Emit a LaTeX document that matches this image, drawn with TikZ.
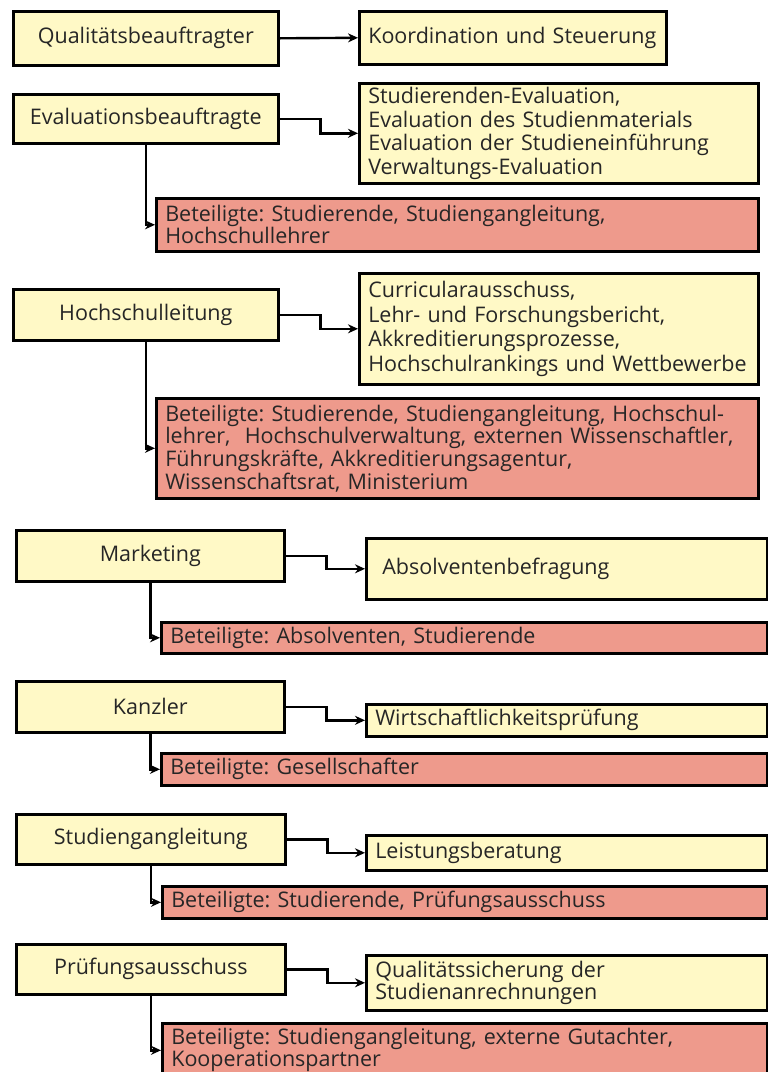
\documentclass[tikz,border=0pt]{standalone}
\usepackage{fontspec}
\setmainfont{Open Sans}
\usepackage{xcolor}
\usepackage{tikz}
\usetikzlibrary{arrows.meta,positioning}
\definecolor{roleyellow}{HTML}{FFF9C6}
\definecolor{partred}{HTML}{EE9A8C}
\frenchspacing

\begin{document}
\begin{tikzpicture}[
  x=1pt, y=-1pt,
  rolebox/.style={draw, fill=roleyellow, line width=2.6pt, anchor=north west, inner sep=0pt, align=center, text=black!85, font=\fontsize{21.5}{23.5}\selectfont},
  taskbox/.style={draw, fill=roleyellow, line width=2.6pt, anchor=north west, inner xsep=9pt, inner ysep=0pt, align=left, text=black!85, font=\fontsize{21.5}{23.5}\selectfont},
  partbox/.style={draw, fill=partred, line width=2.6pt, anchor=north west, inner xsep=9pt, inner ysep=0pt, align=left, text=black!85, font=\fontsize{21.5}{22}\selectfont},
  arrow/.style={-{Stealth[length=10pt, width=9pt]}, line width=2.4pt}
]
  \useasboundingbox (0,0) rectangle (768,1072);
  \clip (0,0) rectangle (768,1072);

  % Qualitaetsbeauftragter
  \node[rolebox, minimum width=265pt, minimum height=54pt] (qb) at (12,10) {Qualitätsbeauftragter};
  \node[taskbox, minimum width=307pt, minimum height=53pt, text width=289pt] (qbtask) at (358,10) {Koordination und Steuerung};
  \draw[arrow] (qb.east) -- (qbtask.west);

  % Evaluationsbeauftragte
  \node[rolebox, minimum width=265pt, minimum height=49pt] (eb) at (12,93) {Evaluationsbeauftragte};
  \node[taskbox, minimum width=399pt, minimum height=100pt, text width=381pt] (ebtask) at (358,82) {Studierenden-Evaluation,\\Evaluation des Studienmaterials\\Evaluation der Studieneinführung\\Verwaltungs-Evaluation};
  \node[partbox, minimum width=602pt, minimum height=53pt, text width=584pt] (ebpart) at (155,197) {Beteiligte: Studierende, Studiengangleitung,\\Hochschullehrer};
  \draw[arrow] (eb.east) -- ++(41,0) |- (ebtask.west);
  \draw[arrow] (eb.south) |- (ebpart.west);

  % Hochschulleitung
  \node[rolebox, minimum width=265pt, minimum height=51pt] (hl) at (12,288) {Hochschulleitung};
  \node[taskbox, minimum width=399pt, minimum height=111pt, text width=381pt, font=\fontsize{21.5}{24.5}\selectfont] (hltask) at (358,272) {Curricularausschuss,\\Lehr- und Forschungsbericht,\\Akkreditierungsprozesse,\\Hochschulrankings und Wettbewerbe};
  \node[partbox, minimum width=602pt, minimum height=100pt, text width=584pt, font=\fontsize{21.5}{21.5}\selectfont] (hlpart) at (155,397) {Beteiligte: Studierende, Studiengangleitung, Hochschul-\\lehrer,~ Hochschulverwaltung, externen Wissenschaftler,\\Führungskräfte, Akkreditierungsagentur,\\Wissenschaftsrat, Ministerium};
  \draw[arrow] (hl.east) -- ++(41,0) |- (hltask.west);
  \draw[arrow] (hl.south) |- (hlpart.west);

  % Marketing
  \node[rolebox, minimum width=268pt, minimum height=51pt] (mk) at (15,529) {Marketing};
  \node[taskbox, minimum width=401pt, minimum height=61pt, text width=369pt, inner xsep=16pt] (mktask) at (365,537) {Absolventenbefragung};
  \node[partbox, minimum width=606pt, minimum height=31pt, text width=588pt] (mkpart) at (160,621) {Beteiligte: Absolventen, Studierende};
  \draw[arrow] (mk.east) -- ++(41,0) |- (mktask.west);
  \draw[arrow] (mk.south) |- (mkpart.west);

  % Kanzler
  \node[rolebox, minimum width=268pt, minimum height=51pt] (kz) at (15,680) {Kanzler};
  \node[taskbox, minimum width=401pt, minimum height=32pt, text width=383pt] (kztask) at (365,703) {Wirtschaftlichkeitsprüfung};
  \node[partbox, minimum width=606pt, minimum height=32pt, text width=588pt] (kzpart) at (160,752) {Beteiligte: Gesellschafter};
  \draw[arrow] (kz.east) -- ++(41,0) |- (kztask.west);
  \draw[arrow] (kz.south) |- (kzpart.west);

  % Studiengangleitung
  \node[rolebox, minimum width=269pt, minimum height=50pt] (sl) at (15,813) {Studiengangleitung};
  \node[taskbox, minimum width=401pt, minimum height=35pt, text width=383pt] (sltask) at (365,834) {Leistungsberatung};
  \node[partbox, minimum width=605pt, minimum height=32pt, text width=587pt] (slpart) at (161,885) {Beteiligte: Studierende, Prüfungsausschuss};
  \draw[arrow] (sl.east) -- ++(41,0) |- (sltask.west);
  \draw[arrow] (sl.south) |- (slpart.west);

  % Pruefungsausschuss
  \node[rolebox, minimum width=269pt, minimum height=50pt] (pa) at (15,943) {Prüfungsausschuss};
  \node[taskbox, minimum width=401pt, minimum height=55pt, text width=383pt, font=\fontsize{21.5}{21}\selectfont] (patask) at (365,954) {Qualitätssicherung der\\Studienanrechnungen};
  \node[partbox, minimum width=605pt, minimum height=54pt, text width=587pt] (papart) at (161,1022) {Beteiligte: Studiengangleitung, externe Gutachter,\\Kooperationspartner};
  \draw[arrow] (pa.east) -- ++(41,0) |- (patask.west);
  \draw[arrow] (pa.south) |- (papart.west);
\end{tikzpicture}
\end{document}
